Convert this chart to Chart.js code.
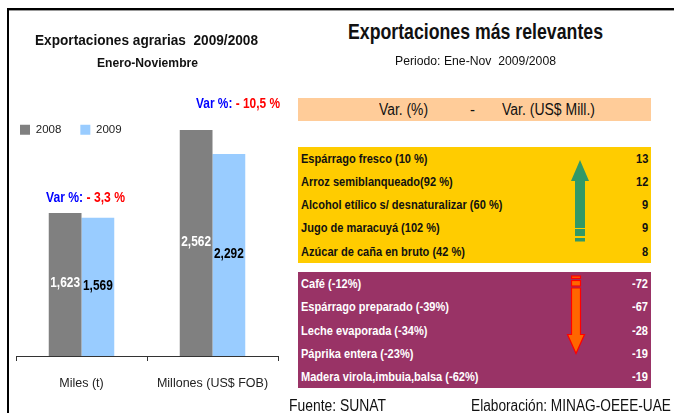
<!DOCTYPE html>
<html><head><meta charset="utf-8">
<script src="https://cdn.jsdelivr.net/npm/chart.js@4"></script>
<style>
html,body{margin:0;padding:0;background:#fff;overflow:hidden}
#page{position:relative;width:674px;height:413px;font-family:"Liberation Sans",Arial,sans-serif;overflow:hidden}
#page canvas{position:absolute;left:0;top:0}
.box,.t{position:absolute}
.t{white-space:pre;line-height:1;transform-origin:0 50%}
svg{position:absolute;left:0;top:0}
</style></head><body>
<div id="page"><canvas id="c" width="290" height="413" style="width:290px;height:413px"></canvas></div>
<script>
const categories=["Miles (t)","Millones (US$ FOB)"];
const seriesNames=["2008","2009"];
const values2008=[1623,2562];
const values2009=[1569,2292];
const upNames=["Espárrago fresco (10 %)","Arroz semiblanqueado(92 %)","Alcohol etílico s/ desnaturalizar (60 %)","Jugo de maracuyá (102 %)","Azúcar de caña en bruto (42 %)"];
const upValues=["13","12","9","9","8"];
const downNames=["Café (-12%)","Espárrago preparado (-39%)","Leche evaporada (-34%)","Páprika entera (-23%)","Madera virola,imbuia,balsa (-62%)"];
const downValues=["-72","-67","-28","-19","-19"];
const FONT='"Liberation Sans",Arial,sans-serif';
const page=document.getElementById('page');
function box(l,t,w,h,c){const d=document.createElement('div');d.className='box';d.style.cssText=`left:${l}px;top:${t}px;width:${w}px;height:${h}px;background:${c}`;page.appendChild(d);}
function fit(parts,x1,x2,cy,size,bold){
  const s=document.createElement('div');s.className='t';
  s.style.fontSize=size+'px';s.style.fontWeight=bold?'bold':'normal';s.style.left=x1+'px';s.style.top=(cy-size/2)+'px';
  parts.forEach(p=>{const e=document.createElement('span');e.textContent=p[0];e.style.color=p[1];s.appendChild(e);});
  page.appendChild(s);
  s.style.transform=`scaleX(${(x2-x1)/s.getBoundingClientRect().width})`;
}
function rowText(txt,x,cy,c,right){
  const s=document.createElement('div');s.className='t';s.textContent=txt;
  s.style.cssText+=`font-size:13px;font-weight:bold;color:${c};top:${cy-7.5}px;`;
  page.appendChild(s);
  const k=0.85;
  if(right){s.style.left=(x-s.getBoundingClientRect().width*k)+'px';}else{s.style.left=x+'px';}
  s.style.transform=`scaleX(${k})`;
}
box(7,8,667,2,'#000');box(7,10,667,1,'#999');box(7,8,1.5,405,'#000');
box(298,98,353,23,'#FFCC99');box(298,147,353,116,'#FFCC00');box(298,272,353,116,'#993366');
const upY=[159,182,205,228,252],downY=[284,307,331,354,377];
upNames.forEach((n,i)=>{rowText(n,301,upY[i],'#111');rowText(upValues[i],648,upY[i],'#111',true);});
downNames.forEach((n,i)=>{rowText(n,301,downY[i],'#fff');rowText(downValues[i],648,downY[i],'#fff',true);});
const K='#111';
fit([["Exportaciones agrarias  2009/2008",K]],35,258,39,15,true);
fit([["Enero-Noviembre",K]],97,198,62,13,true);
fit([["Exportaciones más relevantes",K]],348,603,32,22,true);
fit([["Periodo: Ene-Nov  2009/2008",K]],395,556,60,13,false);
fit([["Var. (%)",K]],379,428,110,16,false);
fit([["-",K]],470,475,110,16,false);
fit([["Var. (US$ Mill.)",K]],502,595,110,16,false);
fit([["Fuente: SUNAT",K]],289,386,406,16,false);
fit([["Elaboración: MINAG-OEEE-UAE",K]],471,671,406,16,false);
fit([["Var %: ","#0000FF"],["- 3,3 %","#FF0000"]],46,125,197,14,true);
fit([["Var %: ","#0000FF"],["- 10,5 %","#FF0000"]],196,280,103,14,true);
const ns='http://www.w3.org/2000/svg';
const svg=document.createElementNS(ns,'svg');svg.setAttribute('width',674);svg.setAttribute('height',413);
svg.innerHTML=`<polygon points="580,160 589,181 585,181 585,228 575,228 575,181 571,181" fill="#339966"/>
<rect x="575" y="229" width="10" height="7" fill="#339966"/><rect x="575" y="238" width="10" height="3.5" fill="#339966"/>
<g fill="#FF6600" stroke="#FF0000" stroke-width="1.2"><rect x="571.5" y="276" width="9" height="2.4"/><rect x="571.5" y="280.5" width="9" height="5.5"/>
<polygon points="571.5,288 580.5,288 580.5,334.5 584.5,334.5 576,353.5 567.5,334.5 571.5,334.5"/></g>`;
page.appendChild(svg);
const barLabels={id:'barLabels',afterDatasetsDraw(ch){
  const ctx=ch.ctx;const cols=['#fff','#000'];
  ch.data.datasets.forEach((ds,di)=>{ch.getDatasetMeta(di).data.forEach((el,i)=>{
    const txt=ds.data[i].toLocaleString('en-US');
    ctx.save();ctx.translate(el.x,(el.y+el.base)/2-1);ctx.scale(0.85,1);
    ctx.font='bold 14px '+FONT;ctx.fillStyle=cols[di];ctx.textAlign='center';ctx.textBaseline='middle';
    ctx.fillText(txt,0,0);ctx.restore();
  });});
}};
const legendPlace={id:'legendPlace',afterLayout(ch){const l=ch.legend;l.left=1;l.top=105;l.bottom=165;}};
new Chart(document.getElementById('c'),{
  type:'bar',
  data:{labels:categories,datasets:[
    {label:seriesNames[0],data:values2008,backgroundColor:'#808080'},
    {label:seriesNames[1],data:values2009,backgroundColor:'#99CCFF'}]},
  plugins:[barLabels,legendPlace],
  options:{responsive:false,animation:false,
    layout:{padding:{left:16,right:12,top:51,bottom:7}},
    datasets:{bar:{categoryPercentage:0.5,barPercentage:1}},
    plugins:{tooltip:{enabled:false},title:{display:false},
      legend:{position:'top',align:'start',labels:{boxWidth:10,boxHeight:10,padding:19,color:'#222',font:{family:FONT,size:11.5}}}},
    scales:{
      x:{grid:{display:true,drawOnChartArea:false,color:'#333',tickLength:5,offset:true},border:{color:'#333',width:1},
         ticks:{color:'#222',padding:15,maxRotation:0,font:{family:FONT,size:12.5}}},
      y:{display:false,min:0,max:3000}
    }}
});
</script></body></html>
